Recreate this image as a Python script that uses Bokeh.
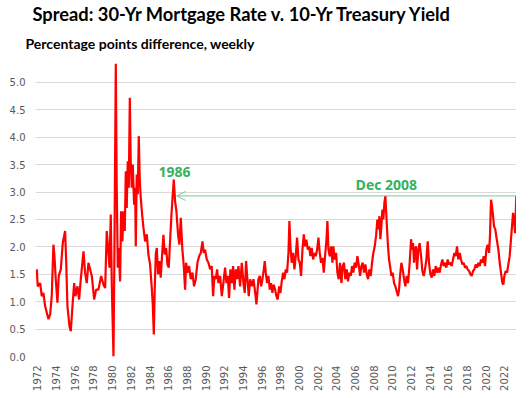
import math
from bokeh.plotting import figure
from bokeh.models import Range1d, FixedTicker, Label, Arrow, OpenHead, Title, CustomJSTickFormatter
from bokeh.embed import file_html
from bokeh.resources import INLINE

TITLE = "Spread: 30-Yr Mortgage Rate v. 10-Yr Treasury Yield"
SUBTITLE = "Percentage points difference, weekly"
PEAK_1986_LABEL = "1986"
DEC2008_LABEL = "Dec 2008"

years = [
    1971.93, 1972.03, 1972.29, 1972.46, 1972.64, 1972.82, 1973.00, 1973.18, 1973.36, 1973.53,
    1973.71, 1973.82, 1973.96, 1974.14, 1974.28, 1974.50, 1974.71, 1974.96, 1975.07, 1975.21,
    1975.43, 1975.57, 1975.75, 1975.93, 1976.07, 1976.28, 1976.46, 1976.64, 1976.93, 1977.10,
    1977.28, 1977.46, 1977.64, 1977.82, 1978.07, 1978.28, 1978.53, 1978.82,
    1979.07, 1979.25, 1979.42, 1979.57, 1979.71, 1979.85, 1979.96, 1980.14, 1980.24, 1980.39,
    1980.49, 1980.60, 1980.71, 1980.85, 1980.96, 1981.10, 1981.21, 1981.35, 1981.46, 1981.56,
    1981.67, 1981.78, 1981.89, 1981.99, 1982.10, 1982.21, 1982.35, 1982.46, 1982.53, 1982.63,
    1982.74, 1982.85, 1982.96, 1983.06, 1983.21, 1983.35, 1983.53, 1983.71, 1983.88, 1984.06,
    1984.24, 1984.35, 1984.46, 1984.56, 1984.67, 1984.78, 1984.92, 1985.06, 1985.20, 1985.35,
    1985.49, 1985.63, 1985.78, 1985.92, 1986.06, 1986.20, 1986.35, 1986.49, 1986.60, 1986.74,
    1986.88, 1987.06, 1987.20, 1987.35,
    1987.52, 1987.67, 1987.81, 1987.92, 1988.06, 1988.24, 1988.42, 1988.60, 1988.77, 1988.95,
    1989.13, 1989.31, 1989.49, 1989.67, 1989.81, 1989.95, 1990.13, 1990.31, 1990.49, 1990.66,
    1990.81, 1990.95, 1991.10, 1991.24, 1991.38, 1991.56, 1991.74, 1991.91, 1992.09, 1992.24,
    1992.38, 1992.52, 1992.66, 1992.81, 1992.95, 1993.09, 1993.24, 1993.38, 1993.52, 1993.70,
    1993.88, 1994.06, 1994.20, 1994.34, 1994.48, 1994.63, 1994.77, 1994.95, 1995.13, 1995.30,
    1995.45,
    1995.66, 1995.81, 1995.95, 1996.09, 1996.24, 1996.34, 1996.45, 1996.59, 1996.73, 1996.88,
    1997.02, 1997.16, 1997.31, 1997.45, 1997.59, 1997.73, 1997.88, 1998.02, 1998.16, 1998.31,
    1998.45, 1998.59, 1998.73, 1998.88, 1998.98, 1999.09, 1999.23, 1999.38, 1999.52, 1999.66,
    1999.80, 1999.95, 2000.09, 2000.23, 2000.38, 2000.52, 2000.66, 2000.80, 2000.95, 2001.09,
    2001.23, 2001.37, 2001.52, 2001.66, 2001.80, 2001.95, 2002.09, 2002.23, 2002.37, 2002.52,
    2002.66, 2002.80, 2002.95, 2003.05, 2003.16, 2003.30, 2003.44, 2003.59,
    2003.69, 2003.83, 2003.98, 2004.12, 2004.26, 2004.40, 2004.55, 2004.69, 2004.83, 2004.97,
    2005.12, 2005.26, 2005.40, 2005.55, 2005.69, 2005.83, 2005.97, 2006.12, 2006.26, 2006.40,
    2006.55, 2006.69, 2006.83, 2006.97, 2007.12, 2007.26, 2007.40, 2007.54, 2007.69, 2007.83,
    2007.97, 2008.12, 2008.26, 2008.40, 2008.51, 2008.62, 2008.72, 2008.83, 2008.94, 2009.04,
    2009.15, 2009.26, 2009.33, 2009.44, 2009.54, 2009.65, 2009.76, 2009.90, 2010.04, 2010.19,
    2010.33, 2010.47, 2010.61, 2010.72, 2010.83, 2010.97, 2011.11, 2011.26, 2011.40, 2011.54,
    2011.68,
    2011.72, 2011.86, 2012.01, 2012.11, 2012.22, 2012.33, 2012.43, 2012.54, 2012.65, 2012.79,
    2012.93, 2013.08, 2013.22, 2013.36, 2013.50, 2013.65, 2013.79, 2013.93, 2014.08, 2014.22,
    2014.36, 2014.50, 2014.65, 2014.79, 2014.93, 2015.07, 2015.22, 2015.36, 2015.50, 2015.65,
    2015.79, 2015.93, 2016.07, 2016.22, 2016.36, 2016.50, 2016.65, 2016.79, 2016.93, 2017.07,
    2017.22, 2017.36, 2017.50, 2017.64, 2017.79, 2017.93, 2018.07, 2018.22, 2018.36, 2018.50,
    2018.64, 2018.79, 2018.93, 2019.07, 2019.22, 2019.36, 2019.50, 2019.64, 2019.79, 2019.93,
    2020.07, 2020.21, 2020.36, 2020.46, 2020.57, 2020.68, 2020.79, 2020.89, 2021.03, 2021.18,
    2021.36, 2021.50, 2021.64, 2021.79, 2021.89, 2022.00, 2022.14, 2022.29, 2022.43, 2022.57,
    2022.71, 2022.82, 2022.93, 2023.04, 2023.14, 2023.21, 2023.28,
]

spread = [
    1.59, 1.28, 1.34, 1.10, 1.16, 0.92, 0.80, 0.68, 0.77, 1.10,
    2.04, 1.83, 1.41, 0.98, 1.47, 1.59, 2.07, 2.29, 1.77, 0.92,
    0.55, 0.46, 0.92, 1.34, 1.10, 1.28, 1.04, 1.41, 1.92, 1.53,
    1.34, 1.71, 1.59, 1.47, 1.04, 1.22, 1.22, 1.47,
    1.31, 1.25, 2.29, 1.98, 1.62, 2.59, 1.31, 0.00, 1.86, 5.34,
    3.08, 1.62, 1.98, 1.37, 2.65, 2.10, 2.65, 2.29, 3.38, 2.71,
    3.56, 3.08, 4.72, 3.56, 3.08, 3.50, 2.77, 3.08, 2.01, 3.32,
    2.96, 4.02, 3.20, 2.90, 2.59, 2.35, 2.10, 2.23, 1.86, 1.68,
    1.25, 0.95, 0.40, 1.25, 1.86, 1.98, 1.50, 1.74, 1.44, 1.86,
    2.22, 1.86, 1.98, 1.68, 1.62, 2.10, 2.59, 2.96, 3.23, 2.83,
    2.65, 2.22, 2.04, 2.53,
    1.95, 1.65, 1.22, 1.71, 1.53, 1.65, 1.41, 1.53, 1.28, 1.41,
    1.71, 1.83, 1.89, 2.10, 1.89, 1.95, 1.77, 1.71, 1.59, 1.65,
    1.10, 1.47, 1.41, 1.59, 1.34, 1.47, 1.10, 1.34, 1.62, 1.34,
    1.47, 1.07, 1.59, 1.34, 1.65, 1.22, 1.59, 1.41, 1.65, 1.28,
    1.71, 1.34, 1.16, 1.74, 1.41, 1.10, 1.41, 1.28, 1.41, 1.19,
    0.95,
    1.41, 1.47, 1.28, 1.41, 1.59, 1.74, 1.53, 1.34, 1.47, 1.22,
    1.34, 1.16, 1.31, 1.22, 1.10, 1.04, 1.28, 1.16, 1.37, 1.53,
    1.41, 1.59, 1.53, 1.89, 2.47, 2.01, 1.71, 1.89, 1.59, 1.83,
    2.17, 1.77, 1.71, 1.47, 1.95, 2.23, 2.01, 2.13, 1.95, 2.01,
    1.83, 1.98, 1.77, 1.89, 1.83, 1.95, 2.17, 1.89, 1.71, 1.80,
    1.53, 1.83, 2.13, 2.47, 1.95, 1.83, 2.01, 1.71,
    2.01, 1.77, 1.89, 1.53, 1.41, 1.71, 1.34, 1.65, 1.71, 1.41,
    1.59, 1.37, 1.53, 1.47, 1.65, 1.53, 1.71, 1.62, 1.83, 1.68,
    1.47, 1.65, 1.71, 1.53, 1.68, 1.50, 1.41, 1.59, 1.47, 1.71,
    1.89, 2.01, 2.20, 2.50, 2.32, 2.56, 2.14, 2.38, 2.68, 2.50,
    2.80, 2.93, 2.68, 2.32, 2.01, 1.77, 1.65, 1.47, 1.53, 1.34,
    1.28, 1.19, 1.10, 1.22, 1.47, 1.71, 1.59, 1.41, 1.28, 1.47,
    1.34,
    1.41, 1.71, 2.14, 1.95, 2.07, 1.71, 1.95, 2.01, 1.59, 1.95,
    2.07, 1.83, 1.56, 1.47, 1.59, 1.77, 2.10, 1.71, 1.50, 1.44,
    1.59, 1.47, 1.65, 1.53, 1.62, 1.53, 1.68, 1.77, 1.65, 1.71,
    1.62, 1.77, 1.68, 1.71, 1.65, 1.77, 1.89, 1.83, 2.01, 1.77,
    1.89, 1.77, 1.68, 1.71, 1.62, 1.65, 1.59, 1.56, 1.50, 1.47,
    1.56, 1.59, 1.68, 1.62, 1.71, 1.65, 1.77, 1.71, 1.83, 1.65,
    1.95, 2.04, 1.89, 2.20, 2.86, 2.74, 2.56, 2.38, 2.32, 2.14,
    1.95, 1.71, 1.53, 1.34, 1.31, 1.47, 1.56, 1.53, 1.68, 1.83,
    2.14, 2.38, 2.62, 2.50, 2.25, 2.56, 2.93,
]

y_ticks = [0.0, 0.5, 1.0, 1.5, 2.0, 2.5, 3.0, 3.5, 4.0, 4.5, 5.0]
x_ticks = list(range(1972, 2023, 2))

RED = "#FF0000"
GREEN_TEXT = "#35B05C"
GREEN_LINE = "#7ACB92"
AXIS_TEXT = "#595959"
GRID = "#D9D9D9"

p = figure(
    frame_width=481, frame_height=296,
    x_range=Range1d(1971.79, 2023.3),
    y_range=Range1d(0, 5.4),
    output_backend="svg",
    toolbar_location=None,
    min_border_left=35, min_border_right=0, min_border_top=0, min_border_bottom=33,
    background_fill_color="white", border_fill_color="white",
)
p.outline_line_color = None

# axes
p.yaxis.ticker = FixedTicker(ticks=y_ticks)
p.yaxis.formatter = CustomJSTickFormatter(code="return tick.toFixed(1);")
p.xaxis.ticker = FixedTicker(ticks=x_ticks)
p.xaxis.major_label_orientation = math.pi / 2
for ax in (p.xaxis[0], p.yaxis[0]):
    ax.axis_line_color = None
    ax.major_tick_line_color = None
    ax.minor_tick_line_color = None
    ax.major_tick_out = 0
    ax.major_tick_in = 0
    ax.minor_tick_out = 0
    ax.major_label_text_font = "DejaVu Sans"
    ax.major_label_text_font_size = "10px"
    ax.major_label_text_color = AXIS_TEXT
p.yaxis.major_label_standoff = 10
p.xaxis.major_label_standoff = 9

p.xgrid.grid_line_color = None
p.ygrid.ticker = FixedTicker(ticks=y_ticks)
p.ygrid.grid_line_color = GRID
p.ygrid.grid_line_width = 1

# series
p.line(years, spread, line_color=RED, line_width=2.2)

# annotations
i86 = max(range(len(years)), key=lambda i: spread[i] if 1985 < years[i] < 1988 else -1)
i08 = max(range(len(years)), key=lambda i: spread[i] if 2007 < years[i] < 2011 else -1)
level = spread[-1]
p.add_layout(Arrow(
    end=OpenHead(size=9, line_color=GREEN_LINE, line_width=1),
    x_start=years[-1], y_start=level,
    x_end=years[i86] + 0.3, y_end=level,
    line_color=GREEN_LINE, line_width=1,
))
p.add_layout(Label(
    x=years[i86] + 0.07, y=spread[i86] + 0.14, text=PEAK_1986_LABEL,
    text_align="center", text_baseline="middle",
    text_font="Open Sans", text_font_style="bold", text_font_size="14px",
    text_color=GREEN_TEXT,
))
p.add_layout(Label(
    x=years[i08] + 0.1, y=spread[i08] + 0.21, text=DEC2008_LABEL,
    text_align="center", text_baseline="middle",
    text_font="Open Sans", text_font_style="bold", text_font_size="14px",
    text_color=GREEN_TEXT,
))

# titles (added nearest-first)
p.add_layout(Title(
    text=SUBTITLE, align="left", offset=-10, standoff=17,
    text_font="Lato", text_font_style="bold", text_font_size="14px",
    text_color="#000000",
), "above")
p.add_layout(Title(
    text=TITLE, align="left", offset=-3, standoff=0,
    text_font="Lato", text_font_style="bold", text_font_size="18.3px",
    text_color="#000000",
), "above")

open("out.html", "w").write(file_html(p, INLINE))
